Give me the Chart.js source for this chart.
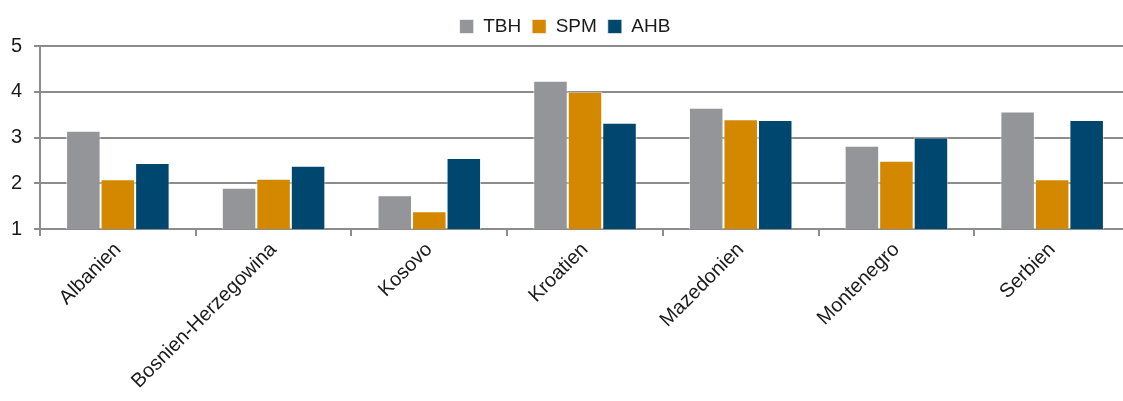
<!DOCTYPE html>
<html>
<head>
<meta charset="utf-8">
<script src="https://cdn.jsdelivr.net/npm/chart.js@4/dist/chart.umd.min.js"></script>
<style>
  html, body { margin: 0; padding: 0; background: #fff; overflow: hidden; }
  #wrap { width: 1130px; height: 401px; }
</style>
</head>
<body>
<div id="wrap"><canvas id="chart"></canvas></div>
<script>
const countries = ['Albanien', 'Bosnien-Herzegowina', 'Kosovo', 'Kroatien', 'Mazedonien', 'Montenegro', 'Serbien'];
const tbh = [3.15, 1.9, 1.74, 4.24, 3.65, 2.82, 3.57];
const spm = [2.09, 2.1, 1.39, 4.0, 3.4, 2.49, 2.09];
const ahb = [2.44, 2.38, 2.55, 3.32, 3.38, 3.0, 3.38];

const font = 'Liberation Sans, Arial, sans-serif';

function series(label, data, color) {
    return {
        label: label,
        data: data,
        backgroundColor: color,
        borderColor: 'rgba(255,255,255,0.6)',
        borderWidth: 1,
        categoryPercentage: 0.665,
        barPercentage: 1.0
    };
}

const ctx = document.getElementById('chart').getContext('2d');
new Chart(ctx, {
    type: 'bar',
    data: {
        labels: countries,
        datasets: [
            series('TBH', tbh, '#939598'),
            series('SPM', spm, '#d48800'),
            series('AHB', ahb, '#00476f')
        ]
    },
    options: {
        responsive: true,
        maintainAspectRatio: false,
        animation: false,
        layout: { padding: { top: 6, right: 0, left: 0, bottom: 0 } },
        plugins: {
            legend: {
                position: 'top',
                labels: {
                    boxWidth: 14,
                    boxHeight: 14,
                    padding: 11,
                    color: '#1a1a1a',
                    font: { family: font, size: 19 }
                }
            },
            tooltip: { enabled: false }
        },
        scales: {
            x: {
                grid: {
                    display: true,
                    drawOnChartArea: false,
                    drawTicks: true,
                    tickLength: 7,
                    color: '#8c8c8c',
                    lineWidth: 2
                },
                border: { color: '#8c8c8c', width: 2 },
                ticks: {
                    color: '#1a1a1a',
                    maxRotation: 45,
                    minRotation: 45,
                    padding: 2,
                    font: { family: font, size: 20 }
                },
                afterFit: scale => { scale.height = 172; }
            },
            y: {
                min: 1,
                max: 5,
                ticks: {
                    stepSize: 1,
                    color: '#1a1a1a',
                    padding: 12,
                    font: { family: font, size: 20 }
                },
                grid: {
                    color: '#8c8c8c',
                    lineWidth: 2,
                    tickLength: 6
                },
                border: { color: '#8c8c8c', width: 2 },
                afterFit: scale => { scale.width = 40; }
            }
        }
    }
});
</script>
</body>
</html>
